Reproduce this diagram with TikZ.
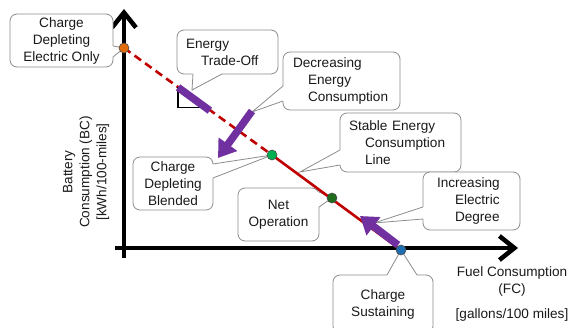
\documentclass[tikz,border=0pt]{standalone}
\usepackage{fontspec}
\setmainfont{Liberation Sans}
\usetikzlibrary{arrows.meta,calc}
\definecolor{lineRed}{HTML}{C00000}
\definecolor{arrowPurple}{HTML}{7030A0}
\definecolor{edgeGray}{HTML}{8C8C8C}
\definecolor{ptOrange}{HTML}{E36C0A}
\definecolor{ptGreen}{HTML}{00B050}
\definecolor{ptDark}{HTML}{1E6E1E}
\definecolor{ptBlue}{HTML}{1F6FB0}
\definecolor{txt}{HTML}{1A1A1A}
% callout pointer: first base point, tip, second base point
\newcommand\calloutptr[3]{%
  \fill[white] #1 -- #2 -- #3 -- cycle;
  \draw[white, line width=1.6pt] #1 -- #3;
  \draw[ptr] #1 -- #2 -- #3;}
\begin{document}
\begin{tikzpicture}[x=1pt,y=-1pt,
  lab/.style={font=\fontsize{13.6}{17}\selectfont, text=txt},
  callbox/.style={lab, draw=edgeGray, line width=0.8pt, rounded corners=7pt,
    fill=white, inner ysep=0pt},
  ptr/.style={draw=edgeGray, line width=0.8pt, line join=miter},
  axis/.style={line width=4.5pt, -{Straight Barb[length=15pt,width=24pt]}},
  dot/.style={circle, draw=black!70, line width=0.6pt, minimum size=10pt, inner sep=0pt},
  bigarrow/.style={arrowPurple, line width=7.5pt, -{Triangle[length=17pt,width=22pt]}},
  redline/.style={lineRed, line width=2.6pt}
]
\useasboundingbox (0,0) rectangle (570,328);

% axes
\coordinate (yb) at (124,258);
\coordinate (yt) at (124,9);
\coordinate (xl) at (115,248);
\coordinate (xr) at (518,248);
\draw[axis] (yb) -- (yt);
\draw[axis] (xl) -- (xr);

% axis titles
\node[lab, rotate=90, align=center] (ylab) at (86,172)
  {Battery\\Consumption (BC)\\{[}kWh/100-miles{]}};
\node[lab, align=center] (xlab) at (512,294)
  {Fuel Consumption\\(FC)\\[8pt]{[}gallons/100 miles{]}};

% operating points on the consumption line
\coordinate (pEO) at (124,48);
\coordinate (pBL) at (272,155);
\coordinate (pNO) at (332,198);
\coordinate (pCS) at (401,250);

% callouts
\node[callbox, minimum width=103pt, minimum height=53pt, align=center] (cdeo)
  at (61.5,40.5) {Charge\\Depleting\\Electric Only};
\calloutptr{(113,46)}{(pEO)}{(113,57)}

\node[callbox, text width=83pt, inner xsep=9pt, minimum height=44pt, align=left] (eto)
  at (227.5,52) {Energy\\\hspace*{15pt}Trade-Off};
\calloutptr{(193,74)}{(192,90)}{(222,74)}

\node[callbox, text width=97pt, inner xsep=10pt, minimum height=58pt, align=left] (dec)
  at (341.5,81) {Decreasing\\\hspace*{15pt}Energy\\\hspace*{15pt}Consumption};
\calloutptr{(283,86)}{(252,112)}{(283,101)}

\node[callbox, text width=103pt, inner xsep=9pt, minimum height=59pt, align=left] (stable)
  at (400.5,142.5) {Stable Energy\\\hspace*{16pt}Consumption\\\hspace*{16pt}Line};
\calloutptr{(340,150)}{(300,172)}{(340,165)}

\node[callbox, minimum width=80pt, minimum height=53pt, align=center] (cdb)
  at (173,183.5) {Charge\\Depleting\\Blended};
\calloutptr{(213,164)}{(pBL)}{(213,178)}

\node[callbox, minimum width=81pt, minimum height=53pt, align=center] (netop)
  at (278.5,214.5) {Net\\Operation};
\calloutptr{(319,192)}{(pNO)}{(319,207)}

\node[callbox, text width=69pt, inner xsep=14pt, minimum height=58pt, align=left] (inc)
  at (471.5,201) {Increasing\\\hspace*{18pt}Electric\\\hspace*{18pt}Degree};
\calloutptr{(423,207)}{(374,223)}{(423,219)}

\node[callbox, minimum width=100pt, minimum height=58pt, align=center] (csus)
  at (383,304) {Charge\\Sustaining};
\calloutptr{(387,275)}{(pCS)}{(417,275)}

% consumption line: dashed while depleting, solid afterwards
\draw[redline, dash pattern=on 8pt off 5pt] (pEO) -- (pBL);
\draw[redline] (pBL) -- (pCS);

% energy trade-off slope marker
\coordinate (tA) at ($(pEO)!0.195!(pCS)$);
\coordinate (tB) at ($(pEO)!0.31!(pCS)$);
\coordinate (tC) at ($(pEO)!0.2935!(pCS)$);
\draw[black, line width=1.5pt] (tA) |- (tC);
\draw[arrowPurple, line width=7.5pt] (tA) -- (tB);

% direction arrows
\coordinate (dS) at (252,111);
\coordinate (dE) at (218,158);
\draw[bigarrow] (dS) -- (dE);
\coordinate (iS) at (398,245);
\coordinate (iE) at (360,216);
\draw[bigarrow] (iS) -- (iE);

% points
\node[dot, fill=ptOrange] (eo) at (pEO) {};
\node[dot, fill=ptGreen] (bl) at (pBL) {};
\node[dot, fill=ptDark] (no) at (pNO) {};
\node[dot, fill=ptBlue] (cs) at (pCS) {};
\end{tikzpicture}
\end{document}
